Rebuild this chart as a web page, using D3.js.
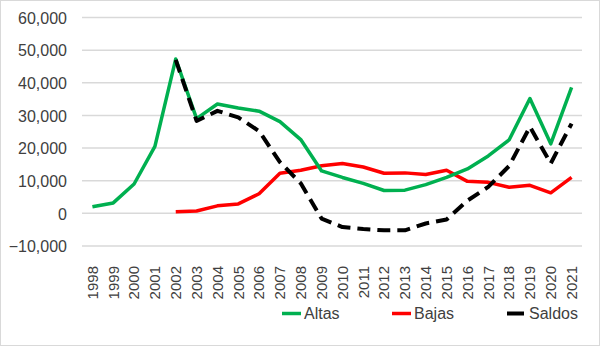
<!DOCTYPE html>
<html>
<head>
<meta charset="utf-8">
<script src="https://cdn.jsdelivr.net/npm/d3@7"></script>
<style>
  body { margin: 0; background: #fff; }
  svg { display: block; font-family: "Liberation Sans", Arial, sans-serif; }
</style>
</head>
<body>
<div id="chart"></div>
<script>
var years = ["1998","1999","2000","2001","2002","2003","2004","2005","2006","2007","2008","2009",
             "2010","2011","2012","2013","2014","2015","2016","2017","2018","2019","2020","2021"];
var altas = [2000, 3200, 9000, 20500, 47300, 29000, 33500, 32300, 31300, 28100, 22600, 13000,
             11000, 9200, 7000, 7100, 8800, 11000, 13600, 17600, 22500, 35200, 21300, 38600];
var bajas = [null, null, null, null, 500, 700, 2300, 2900, 6000, 12300, 13200, 14600,
             15300, 14200, 12300, 12400, 11900, 13200, 9800, 9500, 8000, 8600, 6300, 11000];
var saldos = [null, null, null, null, 47000, 28300, 31400, 29400, 25200, 15700, 9200, -1600,
              -4200, -4800, -5200, -5200, -3100, -1900, 3900, 8100, 14500, 26500, 15300, 27500];
var yTicks = [-10000, 0, 10000, 20000, 30000, 40000, 50000, 60000];

var width = 600, height = 346;
var plot = {left: 82, right: 582, top: 17.5, bottom: 246};

var svg = d3.select("#chart")
  .append("svg")
    .attr("width", width)
    .attr("height", height);

svg.append("rect")
    .attr("x", 0.5).attr("y", 0.5)
    .attr("width", width - 1).attr("height", height - 1)
    .attr("fill", "#fff")
    .attr("stroke", "#d9d9d9");

var x = d3.scaleBand()
    .domain(years)
    .range([plot.left, plot.right]);

var y = d3.scaleLinear()
    .domain([-10000, 60000])
    .range([plot.bottom, plot.top]);

// gridlines
svg.append("g")
  .selectAll("line")
  .data(yTicks)
  .enter()
  .append("line")
    .attr("x1", plot.left)
    .attr("x2", plot.right)
    .attr("y1", function(d) { return y(d); })
    .attr("y2", function(d) { return y(d); })
    .attr("stroke", "#d9d9d9")
    .attr("stroke-width", 1.5);

// y axis labels
var yAxis = svg.append("g")
    .attr("transform", "translate(" + (plot.left - 15) + ",0)")
    .call(d3.axisLeft(y).tickValues(yTicks).tickSize(0).tickPadding(0)
      .tickFormat(d3.format(",")));
yAxis.select(".domain").remove();
yAxis.selectAll("text")
    .attr("fill", "#404040")
    .style("font-size", "16px")
    .attr("dy", "0.36em");

// x axis labels, rotated
svg.append("g")
  .selectAll("text")
  .data(years)
  .enter()
  .append("text")
    .attr("transform", function(d) {
      return "translate(" + (x(d) + x.bandwidth() / 2) + ",266) rotate(-90)";
    })
    .attr("text-anchor", "end")
    .attr("dy", "0.36em")
    .attr("fill", "#404040")
    .style("font-size", "15px")
    .text(function(d) { return d; });

var line = d3.line()
    .defined(function(d) { return d != null; })
    .x(function(d, i) { return x(years[i]) + x.bandwidth() / 2; })
    .y(function(d) { return y(d); });

var series = [
  {name: "Altas", values: altas, color: "#00b050", dash: null, w: 3.5, lx: 282},
  {name: "Bajas", values: bajas, color: "#ff0000", dash: null, w: 3.5, lx: 392},
  {name: "Saldos", values: saldos, color: "#000000", dash: "13,7", w: 4, lx: 507}
];

// draw order: Bajas, Altas, Saldos on top
[series[1], series[0], series[2]].forEach(function(s) {
  svg.append("path")
    .datum(s.values)
    .attr("d", line)
    .attr("fill", "none")
    .attr("stroke", s.color)
    .attr("stroke-width", s.w)
    .attr("stroke-dasharray", s.dash)
    .attr("stroke-linejoin", "round");
});

// legend
var legend = svg.append("g")
  .selectAll("g")
  .data(series)
  .enter()
  .append("g")
    .attr("transform", function(d) { return "translate(" + d.lx + ",313.5)"; });

legend.append("line")
    .attr("x1", 0).attr("x2", function(d) { return d.name == "Saldos" ? 17 : 19; })
    .attr("stroke", function(d) { return d.color; })
    .attr("stroke-width", function(d) { return d.w; });

legend.append("text")
    .attr("x", function(d) { return d.name == "Saldos" ? 22 : 22; })
    .attr("dy", "0.36em")
    .attr("fill", "#404040")
    .style("font-size", "16px")
    .text(function(d) { return d.name; });
</script>
</body>
</html>
